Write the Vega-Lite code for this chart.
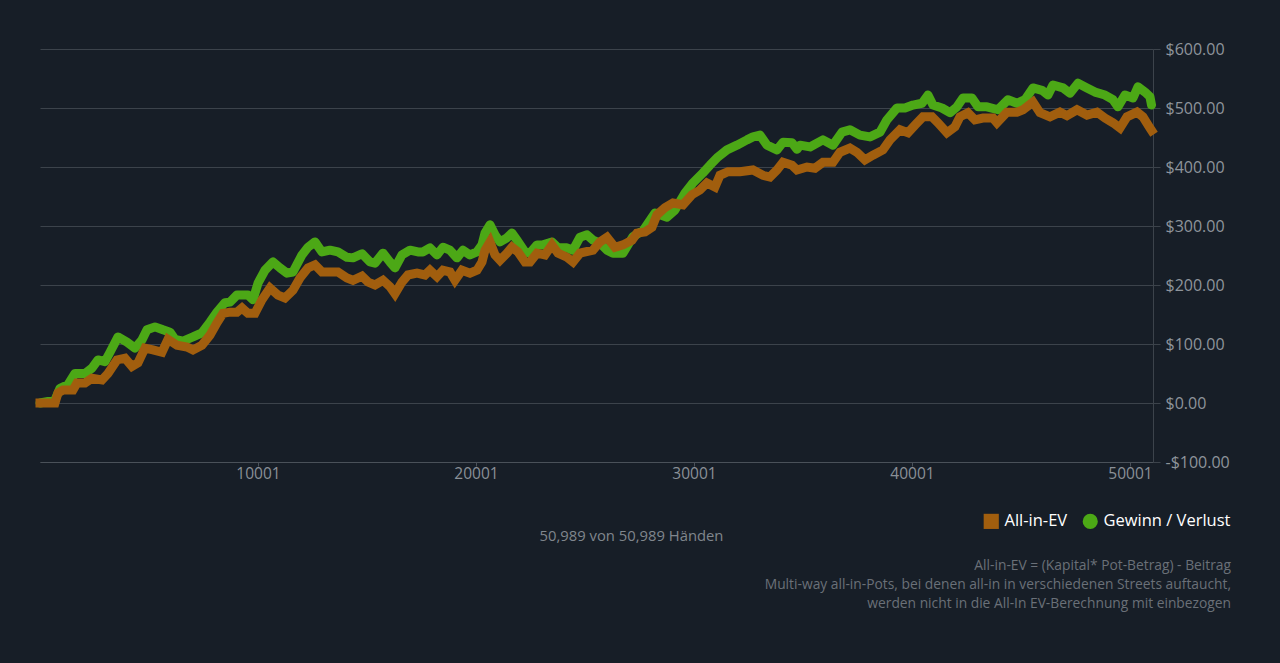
{
  "$schema": "https://vega.github.io/schema/vega-lite/v6.json",
  "width": 1113,
  "height": 413,
  "autosize": {"type": "none"},
  "padding": {"left": 40, "top": 49, "right": 127, "bottom": 201},
  "background": "#171e27",
  "title": {
    "text": [
      "All-in-EV = (Kapital* Pot-Betrag) - Beitrag",
      "Multi-way all-in-Pots, bei denen all-in in verschiedenen Streets auftaucht,",
      "werden nicht in die All-In EV-Berechnung mit einbezogen"
    ],
    "orient": "bottom",
    "anchor": "end",
    "frame": "group",
    "dx": 78,
    "offset": 16,
    "font": "Open Sans",
    "fontSize": 13.8,
    "fontWeight": "normal",
    "color": "#6a7078",
    "lineHeight": 19
  },
  "data": {
    "values": [
      {"hand": 1, "value": 0, "series": "All-in-EV"},
      {"hand": 688, "value": 0, "series": "All-in-EV"},
      {"hand": 826, "value": 17, "series": "All-in-EV"},
      {"hand": 1055, "value": 22, "series": "All-in-EV"},
      {"hand": 1514, "value": 22, "series": "All-in-EV"},
      {"hand": 1697, "value": 34, "series": "All-in-EV"},
      {"hand": 2064, "value": 34, "series": "All-in-EV"},
      {"hand": 2385, "value": 42, "series": "All-in-EV"},
      {"hand": 2844, "value": 39, "series": "All-in-EV"},
      {"hand": 3119, "value": 50, "series": "All-in-EV"},
      {"hand": 3532, "value": 73, "series": "All-in-EV"},
      {"hand": 3899, "value": 76, "series": "All-in-EV"},
      {"hand": 4220, "value": 62, "series": "All-in-EV"},
      {"hand": 4495, "value": 68, "series": "All-in-EV"},
      {"hand": 4816, "value": 93, "series": "All-in-EV"},
      {"hand": 5183, "value": 90, "series": "All-in-EV"},
      {"hand": 5596, "value": 86, "series": "All-in-EV"},
      {"hand": 5871, "value": 108, "series": "All-in-EV"},
      {"hand": 6284, "value": 98, "series": "All-in-EV"},
      {"hand": 6743, "value": 95, "series": "All-in-EV"},
      {"hand": 7018, "value": 90, "series": "All-in-EV"},
      {"hand": 7431, "value": 98, "series": "All-in-EV"},
      {"hand": 7798, "value": 115, "series": "All-in-EV"},
      {"hand": 8119, "value": 136, "series": "All-in-EV"},
      {"hand": 8394, "value": 152, "series": "All-in-EV"},
      {"hand": 8715, "value": 154, "series": "All-in-EV"},
      {"hand": 9036, "value": 154, "series": "All-in-EV"},
      {"hand": 9266, "value": 161, "series": "All-in-EV"},
      {"hand": 9541, "value": 152, "series": "All-in-EV"},
      {"hand": 9862, "value": 152, "series": "All-in-EV"},
      {"hand": 10183, "value": 175, "series": "All-in-EV"},
      {"hand": 10550, "value": 195, "series": "All-in-EV"},
      {"hand": 10917, "value": 183, "series": "All-in-EV"},
      {"hand": 11238, "value": 178, "series": "All-in-EV"},
      {"hand": 11605, "value": 191, "series": "All-in-EV"},
      {"hand": 11926, "value": 212, "series": "All-in-EV"},
      {"hand": 12293, "value": 229, "series": "All-in-EV"},
      {"hand": 12614, "value": 234, "series": "All-in-EV"},
      {"hand": 12935, "value": 222, "series": "All-in-EV"},
      {"hand": 13669, "value": 222, "series": "All-in-EV"},
      {"hand": 14082, "value": 212, "series": "All-in-EV"},
      {"hand": 14357, "value": 208, "series": "All-in-EV"},
      {"hand": 14770, "value": 215, "series": "All-in-EV"},
      {"hand": 15045, "value": 205, "series": "All-in-EV"},
      {"hand": 15366, "value": 200, "series": "All-in-EV"},
      {"hand": 15733, "value": 208, "series": "All-in-EV"},
      {"hand": 16055, "value": 197, "series": "All-in-EV"},
      {"hand": 16284, "value": 185, "series": "All-in-EV"},
      {"hand": 16605, "value": 205, "series": "All-in-EV"},
      {"hand": 16880, "value": 217, "series": "All-in-EV"},
      {"hand": 17293, "value": 220, "series": "All-in-EV"},
      {"hand": 17660, "value": 217, "series": "All-in-EV"},
      {"hand": 17889, "value": 225, "series": "All-in-EV"},
      {"hand": 18210, "value": 214, "series": "All-in-EV"},
      {"hand": 18486, "value": 225, "series": "All-in-EV"},
      {"hand": 18807, "value": 222, "series": "All-in-EV"},
      {"hand": 19036, "value": 208, "series": "All-in-EV"},
      {"hand": 19357, "value": 225, "series": "All-in-EV"},
      {"hand": 19724, "value": 220, "series": "All-in-EV"},
      {"hand": 20046, "value": 225, "series": "All-in-EV"},
      {"hand": 20275, "value": 239, "series": "All-in-EV"},
      {"hand": 20413, "value": 259, "series": "All-in-EV"},
      {"hand": 20642, "value": 273, "series": "All-in-EV"},
      {"hand": 20872, "value": 251, "series": "All-in-EV"},
      {"hand": 21101, "value": 242, "series": "All-in-EV"},
      {"hand": 21422, "value": 254, "series": "All-in-EV"},
      {"hand": 21651, "value": 264, "series": "All-in-EV"},
      {"hand": 21927, "value": 256, "series": "All-in-EV"},
      {"hand": 22248, "value": 239, "series": "All-in-EV"},
      {"hand": 22477, "value": 239, "series": "All-in-EV"},
      {"hand": 22798, "value": 254, "series": "All-in-EV"},
      {"hand": 23165, "value": 251, "series": "All-in-EV"},
      {"hand": 23486, "value": 268, "series": "All-in-EV"},
      {"hand": 23762, "value": 254, "series": "All-in-EV"},
      {"hand": 24175, "value": 247, "series": "All-in-EV"},
      {"hand": 24450, "value": 239, "series": "All-in-EV"},
      {"hand": 24771, "value": 254, "series": "All-in-EV"},
      {"hand": 25367, "value": 259, "series": "All-in-EV"},
      {"hand": 25688, "value": 273, "series": "All-in-EV"},
      {"hand": 26009, "value": 281, "series": "All-in-EV"},
      {"hand": 26376, "value": 264, "series": "All-in-EV"},
      {"hand": 26743, "value": 268, "series": "All-in-EV"},
      {"hand": 27156, "value": 276, "series": "All-in-EV"},
      {"hand": 27385, "value": 288, "series": "All-in-EV"},
      {"hand": 27752, "value": 290, "series": "All-in-EV"},
      {"hand": 28073, "value": 298, "series": "All-in-EV"},
      {"hand": 28303, "value": 319, "series": "All-in-EV"},
      {"hand": 28670, "value": 331, "series": "All-in-EV"},
      {"hand": 29037, "value": 339, "series": "All-in-EV"},
      {"hand": 29495, "value": 336, "series": "All-in-EV"},
      {"hand": 29908, "value": 353, "series": "All-in-EV"},
      {"hand": 30275, "value": 361, "series": "All-in-EV"},
      {"hand": 30596, "value": 373, "series": "All-in-EV"},
      {"hand": 30963, "value": 366, "series": "All-in-EV"},
      {"hand": 31193, "value": 386, "series": "All-in-EV"},
      {"hand": 31560, "value": 392, "series": "All-in-EV"},
      {"hand": 32110, "value": 392, "series": "All-in-EV"},
      {"hand": 32706, "value": 395, "series": "All-in-EV"},
      {"hand": 33165, "value": 386, "series": "All-in-EV"},
      {"hand": 33486, "value": 383, "series": "All-in-EV"},
      {"hand": 33807, "value": 395, "series": "All-in-EV"},
      {"hand": 34083, "value": 408, "series": "All-in-EV"},
      {"hand": 34495, "value": 403, "series": "All-in-EV"},
      {"hand": 34725, "value": 395, "series": "All-in-EV"},
      {"hand": 35183, "value": 400, "series": "All-in-EV"},
      {"hand": 35550, "value": 398, "series": "All-in-EV"},
      {"hand": 35917, "value": 408, "series": "All-in-EV"},
      {"hand": 36375, "value": 408, "series": "All-in-EV"},
      {"hand": 36697, "value": 425, "series": "All-in-EV"},
      {"hand": 37155, "value": 432, "series": "All-in-EV"},
      {"hand": 37476, "value": 425, "series": "All-in-EV"},
      {"hand": 37843, "value": 412, "series": "All-in-EV"},
      {"hand": 38210, "value": 420, "series": "All-in-EV"},
      {"hand": 38669, "value": 429, "series": "All-in-EV"},
      {"hand": 38990, "value": 446, "series": "All-in-EV"},
      {"hand": 39449, "value": 463, "series": "All-in-EV"},
      {"hand": 39816, "value": 458, "series": "All-in-EV"},
      {"hand": 40137, "value": 471, "series": "All-in-EV"},
      {"hand": 40504, "value": 485, "series": "All-in-EV"},
      {"hand": 40917, "value": 485, "series": "All-in-EV"},
      {"hand": 41192, "value": 475, "series": "All-in-EV"},
      {"hand": 41605, "value": 458, "series": "All-in-EV"},
      {"hand": 41972, "value": 468, "series": "All-in-EV"},
      {"hand": 42201, "value": 485, "series": "All-in-EV"},
      {"hand": 42568, "value": 492, "series": "All-in-EV"},
      {"hand": 42889, "value": 480, "series": "All-in-EV"},
      {"hand": 43256, "value": 483, "series": "All-in-EV"},
      {"hand": 43715, "value": 483, "series": "All-in-EV"},
      {"hand": 43898, "value": 475, "series": "All-in-EV"},
      {"hand": 44357, "value": 493, "series": "All-in-EV"},
      {"hand": 44816, "value": 493, "series": "All-in-EV"},
      {"hand": 45091, "value": 497, "series": "All-in-EV"},
      {"hand": 45550, "value": 510, "series": "All-in-EV"},
      {"hand": 45871, "value": 492, "series": "All-in-EV"},
      {"hand": 46330, "value": 485, "series": "All-in-EV"},
      {"hand": 46789, "value": 493, "series": "All-in-EV"},
      {"hand": 47110, "value": 487, "series": "All-in-EV"},
      {"hand": 47569, "value": 497, "series": "All-in-EV"},
      {"hand": 48028, "value": 488, "series": "All-in-EV"},
      {"hand": 48486, "value": 493, "series": "All-in-EV"},
      {"hand": 48853, "value": 483, "series": "All-in-EV"},
      {"hand": 49220, "value": 475, "series": "All-in-EV"},
      {"hand": 49541, "value": 466, "series": "All-in-EV"},
      {"hand": 49862, "value": 485, "series": "All-in-EV"},
      {"hand": 50321, "value": 493, "series": "All-in-EV"},
      {"hand": 50596, "value": 485, "series": "All-in-EV"},
      {"hand": 50917, "value": 466, "series": "All-in-EV"},
      {"hand": 50989, "value": 462, "series": "All-in-EV"},
      {"hand": 1, "value": 0, "series": "Gewinn / Verlust"},
      {"hand": 688, "value": 5, "series": "Gewinn / Verlust"},
      {"hand": 918, "value": 25, "series": "Gewinn / Verlust"},
      {"hand": 1285, "value": 31, "series": "Gewinn / Verlust"},
      {"hand": 1606, "value": 50, "series": "Gewinn / Verlust"},
      {"hand": 2064, "value": 50, "series": "Gewinn / Verlust"},
      {"hand": 2385, "value": 59, "series": "Gewinn / Verlust"},
      {"hand": 2661, "value": 73, "series": "Gewinn / Verlust"},
      {"hand": 2982, "value": 70, "series": "Gewinn / Verlust"},
      {"hand": 3211, "value": 86, "series": "Gewinn / Verlust"},
      {"hand": 3578, "value": 112, "series": "Gewinn / Verlust"},
      {"hand": 3991, "value": 103, "series": "Gewinn / Verlust"},
      {"hand": 4358, "value": 93, "series": "Gewinn / Verlust"},
      {"hand": 4679, "value": 107, "series": "Gewinn / Verlust"},
      {"hand": 4909, "value": 124, "series": "Gewinn / Verlust"},
      {"hand": 5276, "value": 129, "series": "Gewinn / Verlust"},
      {"hand": 5643, "value": 124, "series": "Gewinn / Verlust"},
      {"hand": 5964, "value": 120, "series": "Gewinn / Verlust"},
      {"hand": 6193, "value": 108, "series": "Gewinn / Verlust"},
      {"hand": 6560, "value": 105, "series": "Gewinn / Verlust"},
      {"hand": 7018, "value": 112, "series": "Gewinn / Verlust"},
      {"hand": 7431, "value": 119, "series": "Gewinn / Verlust"},
      {"hand": 7798, "value": 137, "series": "Gewinn / Verlust"},
      {"hand": 8119, "value": 154, "series": "Gewinn / Verlust"},
      {"hand": 8486, "value": 170, "series": "Gewinn / Verlust"},
      {"hand": 8715, "value": 171, "series": "Gewinn / Verlust"},
      {"hand": 9036, "value": 183, "series": "Gewinn / Verlust"},
      {"hand": 9541, "value": 183, "series": "Gewinn / Verlust"},
      {"hand": 9771, "value": 175, "series": "Gewinn / Verlust"},
      {"hand": 10000, "value": 203, "series": "Gewinn / Verlust"},
      {"hand": 10321, "value": 225, "series": "Gewinn / Verlust"},
      {"hand": 10688, "value": 239, "series": "Gewinn / Verlust"},
      {"hand": 11009, "value": 229, "series": "Gewinn / Verlust"},
      {"hand": 11330, "value": 220, "series": "Gewinn / Verlust"},
      {"hand": 11605, "value": 222, "series": "Gewinn / Verlust"},
      {"hand": 12018, "value": 251, "series": "Gewinn / Verlust"},
      {"hand": 12293, "value": 264, "series": "Gewinn / Verlust"},
      {"hand": 12614, "value": 273, "series": "Gewinn / Verlust"},
      {"hand": 12935, "value": 256, "series": "Gewinn / Verlust"},
      {"hand": 13302, "value": 259, "series": "Gewinn / Verlust"},
      {"hand": 13669, "value": 256, "series": "Gewinn / Verlust"},
      {"hand": 14082, "value": 247, "series": "Gewinn / Verlust"},
      {"hand": 14357, "value": 246, "series": "Gewinn / Verlust"},
      {"hand": 14770, "value": 253, "series": "Gewinn / Verlust"},
      {"hand": 15137, "value": 239, "series": "Gewinn / Verlust"},
      {"hand": 15366, "value": 237, "series": "Gewinn / Verlust"},
      {"hand": 15733, "value": 254, "series": "Gewinn / Verlust"},
      {"hand": 16055, "value": 239, "series": "Gewinn / Verlust"},
      {"hand": 16284, "value": 229, "series": "Gewinn / Verlust"},
      {"hand": 16605, "value": 251, "series": "Gewinn / Verlust"},
      {"hand": 16972, "value": 259, "series": "Gewinn / Verlust"},
      {"hand": 17339, "value": 256, "series": "Gewinn / Verlust"},
      {"hand": 17568, "value": 256, "series": "Gewinn / Verlust"},
      {"hand": 17889, "value": 263, "series": "Gewinn / Verlust"},
      {"hand": 18210, "value": 251, "series": "Gewinn / Verlust"},
      {"hand": 18486, "value": 264, "series": "Gewinn / Verlust"},
      {"hand": 18807, "value": 259, "series": "Gewinn / Verlust"},
      {"hand": 19128, "value": 246, "series": "Gewinn / Verlust"},
      {"hand": 19403, "value": 259, "series": "Gewinn / Verlust"},
      {"hand": 19724, "value": 251, "series": "Gewinn / Verlust"},
      {"hand": 20046, "value": 256, "series": "Gewinn / Verlust"},
      {"hand": 20275, "value": 268, "series": "Gewinn / Verlust"},
      {"hand": 20413, "value": 288, "series": "Gewinn / Verlust"},
      {"hand": 20642, "value": 302, "series": "Gewinn / Verlust"},
      {"hand": 20872, "value": 285, "series": "Gewinn / Verlust"},
      {"hand": 21101, "value": 273, "series": "Gewinn / Verlust"},
      {"hand": 21422, "value": 280, "series": "Gewinn / Verlust"},
      {"hand": 21651, "value": 288, "series": "Gewinn / Verlust"},
      {"hand": 21881, "value": 276, "series": "Gewinn / Verlust"},
      {"hand": 22248, "value": 256, "series": "Gewinn / Verlust"},
      {"hand": 22477, "value": 254, "series": "Gewinn / Verlust"},
      {"hand": 22798, "value": 268, "series": "Gewinn / Verlust"},
      {"hand": 23074, "value": 268, "series": "Gewinn / Verlust"},
      {"hand": 23486, "value": 273, "series": "Gewinn / Verlust"},
      {"hand": 23762, "value": 263, "series": "Gewinn / Verlust"},
      {"hand": 24175, "value": 263, "series": "Gewinn / Verlust"},
      {"hand": 24450, "value": 259, "series": "Gewinn / Verlust"},
      {"hand": 24771, "value": 281, "series": "Gewinn / Verlust"},
      {"hand": 25092, "value": 285, "series": "Gewinn / Verlust"},
      {"hand": 25367, "value": 276, "series": "Gewinn / Verlust"},
      {"hand": 25688, "value": 271, "series": "Gewinn / Verlust"},
      {"hand": 26009, "value": 259, "series": "Gewinn / Verlust"},
      {"hand": 26284, "value": 254, "series": "Gewinn / Verlust"},
      {"hand": 26743, "value": 254, "series": "Gewinn / Verlust"},
      {"hand": 27202, "value": 282, "series": "Gewinn / Verlust"},
      {"hand": 27660, "value": 292, "series": "Gewinn / Verlust"},
      {"hand": 28211, "value": 322, "series": "Gewinn / Verlust"},
      {"hand": 28762, "value": 315, "series": "Gewinn / Verlust"},
      {"hand": 29128, "value": 327, "series": "Gewinn / Verlust"},
      {"hand": 29587, "value": 356, "series": "Gewinn / Verlust"},
      {"hand": 29954, "value": 373, "series": "Gewinn / Verlust"},
      {"hand": 30412, "value": 390, "series": "Gewinn / Verlust"},
      {"hand": 30733, "value": 403, "series": "Gewinn / Verlust"},
      {"hand": 31101, "value": 417, "series": "Gewinn / Verlust"},
      {"hand": 31513, "value": 429, "series": "Gewinn / Verlust"},
      {"hand": 31972, "value": 437, "series": "Gewinn / Verlust"},
      {"hand": 32431, "value": 446, "series": "Gewinn / Verlust"},
      {"hand": 32706, "value": 451, "series": "Gewinn / Verlust"},
      {"hand": 33027, "value": 454, "series": "Gewinn / Verlust"},
      {"hand": 33349, "value": 437, "series": "Gewinn / Verlust"},
      {"hand": 33807, "value": 429, "series": "Gewinn / Verlust"},
      {"hand": 34083, "value": 442, "series": "Gewinn / Verlust"},
      {"hand": 34495, "value": 441, "series": "Gewinn / Verlust"},
      {"hand": 34725, "value": 430, "series": "Gewinn / Verlust"},
      {"hand": 34862, "value": 437, "series": "Gewinn / Verlust"},
      {"hand": 35321, "value": 434, "series": "Gewinn / Verlust"},
      {"hand": 35917, "value": 446, "series": "Gewinn / Verlust"},
      {"hand": 36375, "value": 437, "series": "Gewinn / Verlust"},
      {"hand": 36788, "value": 459, "series": "Gewinn / Verlust"},
      {"hand": 37155, "value": 463, "series": "Gewinn / Verlust"},
      {"hand": 37614, "value": 454, "series": "Gewinn / Verlust"},
      {"hand": 38073, "value": 451, "series": "Gewinn / Verlust"},
      {"hand": 38531, "value": 459, "series": "Gewinn / Verlust"},
      {"hand": 38852, "value": 480, "series": "Gewinn / Verlust"},
      {"hand": 39311, "value": 500, "series": "Gewinn / Verlust"},
      {"hand": 39678, "value": 500, "series": "Gewinn / Verlust"},
      {"hand": 40045, "value": 505, "series": "Gewinn / Verlust"},
      {"hand": 40458, "value": 508, "series": "Gewinn / Verlust"},
      {"hand": 40733, "value": 522, "series": "Gewinn / Verlust"},
      {"hand": 40963, "value": 505, "series": "Gewinn / Verlust"},
      {"hand": 41376, "value": 500, "series": "Gewinn / Verlust"},
      {"hand": 41743, "value": 492, "series": "Gewinn / Verlust"},
      {"hand": 42064, "value": 502, "series": "Gewinn / Verlust"},
      {"hand": 42339, "value": 517, "series": "Gewinn / Verlust"},
      {"hand": 42752, "value": 517, "series": "Gewinn / Verlust"},
      {"hand": 43027, "value": 502, "series": "Gewinn / Verlust"},
      {"hand": 43440, "value": 502, "series": "Gewinn / Verlust"},
      {"hand": 43945, "value": 497, "series": "Gewinn / Verlust"},
      {"hand": 44403, "value": 514, "series": "Gewinn / Verlust"},
      {"hand": 44816, "value": 508, "series": "Gewinn / Verlust"},
      {"hand": 45183, "value": 514, "series": "Gewinn / Verlust"},
      {"hand": 45550, "value": 534, "series": "Gewinn / Verlust"},
      {"hand": 45963, "value": 530, "series": "Gewinn / Verlust"},
      {"hand": 46238, "value": 522, "series": "Gewinn / Verlust"},
      {"hand": 46468, "value": 539, "series": "Gewinn / Verlust"},
      {"hand": 46927, "value": 534, "series": "Gewinn / Verlust"},
      {"hand": 47248, "value": 525, "series": "Gewinn / Verlust"},
      {"hand": 47615, "value": 542, "series": "Gewinn / Verlust"},
      {"hand": 48028, "value": 534, "series": "Gewinn / Verlust"},
      {"hand": 48395, "value": 527, "series": "Gewinn / Verlust"},
      {"hand": 48853, "value": 522, "series": "Gewinn / Verlust"},
      {"hand": 49220, "value": 514, "series": "Gewinn / Verlust"},
      {"hand": 49449, "value": 502, "series": "Gewinn / Verlust"},
      {"hand": 49770, "value": 522, "series": "Gewinn / Verlust"},
      {"hand": 50138, "value": 517, "series": "Gewinn / Verlust"},
      {"hand": 50367, "value": 536, "series": "Gewinn / Verlust"},
      {"hand": 50688, "value": 527, "series": "Gewinn / Verlust"},
      {"hand": 50917, "value": 519, "series": "Gewinn / Verlust"},
      {"hand": 50989, "value": 505, "series": "Gewinn / Verlust"}
    ]
  },
  "encoding": {
    "x": {
      "field": "hand",
      "type": "quantitative",
      "scale": {"domain": [1, 51056], "nice": false, "zero": false},
      "axis": {
        "orient": "bottom",
        "title": "50,989 von 50,989 Händen",
        "titleX": 591,
        "titleY": 74,
        "titleBaseline": "middle",
        "titleAlign": "center",
        "titleFont": "Open Sans",
        "titleFontSize": 14.8,
        "titleFontWeight": "normal",
        "titleColor": "#80868d",
        "values": [10001, 20001, 30001, 40001, 50001],
        "format": "d",
        "grid": false,
        "tickSize": 4,
        "tickColor": "#4a5159",
        "domainColor": "#4a5159",
        "labelFont": "Open Sans",
        "labelFontSize": 15.5,
        "labelColor": "#8a9097",
        "labelPadding": 0
      }
    },
    "y": {
      "field": "value",
      "type": "quantitative",
      "scale": {"domain": [-100, 600], "nice": false},
      "axis": {
        "orient": "right",
        "title": null,
        "values": [-100, 0, 100, 200, 300, 400, 500, 600],
        "labelExpr": "(datum.value < 0 ? '-' : '') + '$' + format(abs(datum.value), '.2f')",
        "grid": true,
        "gridColor": "#3c434b",
        "gridWidth": 1.2,
        "tickSize": 7,
        "tickColor": "#3c434b",
        "domainColor": "#3c434b",
        "labelFont": "Open Sans",
        "labelFontSize": 16,
        "labelColor": "#8e949b",
        "labelPadding": 5
      }
    },
    "color": {
      "field": "series",
      "type": "nominal",
      "scale": {
        "domain": ["All-in-EV", "Gewinn / Verlust"],
        "range": ["#a15e0e", "#4ca816"]
      },
      "legend": {
        "title": null,
        "orient": "none",
        "direction": "horizontal",
        "legendX": 943,
        "legendY": 464,
        "labelFont": "Open Sans",
        "labelFontSize": 16.5,
        "labelColor": "#ffffff",
        "symbolSize": 230,
        "columnPadding": 14,
        "labelOffset": 5,
        "encode": {
          "symbols": {
            "update": {
              "shape": {"signal": "datum.value === 'All-in-EV' ? 'square' : 'circle'"},
              "fill": {"signal": "datum.value === 'All-in-EV' ? '#a15e0e' : '#4ca816'"},
              "stroke": {"signal": "datum.value === 'All-in-EV' ? '#a15e0e' : '#4ca816'"},
              "strokeWidth": {"value": 0}
            }
          }
        }
      }
    }
  },
  "layer": [
    {
      "transform": [{"filter": "datum.series === 'Gewinn / Verlust'"}],
      "mark": {"type": "line", "strokeWidth": 9, "strokeCap": "round", "strokeJoin": "round", "clip": false}
    },
    {
      "transform": [{"filter": "datum.series === 'All-in-EV'"}],
      "mark": {"type": "line", "strokeWidth": 9, "strokeCap": "square", "strokeJoin": "miter", "clip": false}
    }
  ],
  "config": {
    "view": {"stroke": null},
    "font": "Open Sans"
  }
}
